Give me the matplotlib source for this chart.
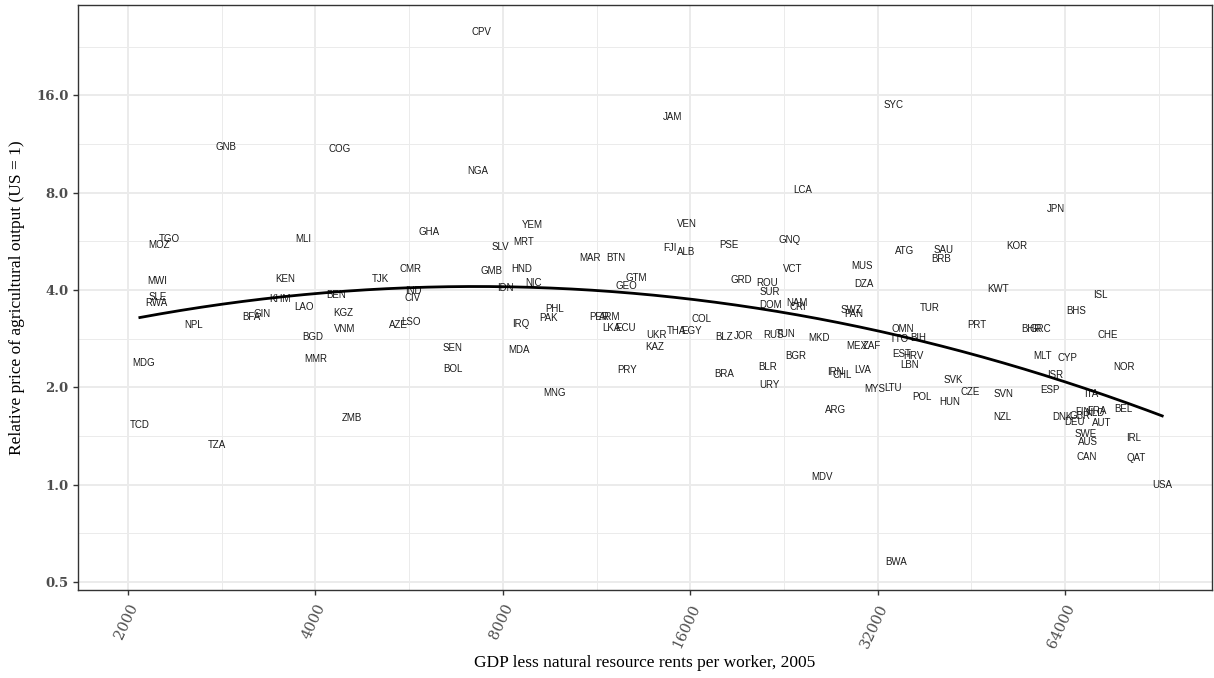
import matplotlib
matplotlib.use("Agg")
import matplotlib.pyplot as plt
from matplotlib.ticker import FixedLocator, FixedFormatter, NullFormatter
import numpy as np

# data
codes = ["TCD", "MDG", "TZA", "MWI", "SLE", "RWA", "MOZ", "TGO", "NPL", "BFA",
         "GIN", "KHM", "KEN", "LAO", "BGD", "MMR", "MLI", "GNB", "COG", "BEN",
         "KGZ", "VNM", "ZMB", "TJK", "CMR", "IND", "CIV", "AZE", "LSO", "GHA",
         "SEN", "BOL", "NGA", "CPV", "GMB", "SLV", "IDN", "YEM", "MRT", "HND",
         "NIC", "IRQ", "MDA", "PHL", "PAK", "MNG", "MAR", "BTN", "GTM", "GEO",
         "PER", "ARM", "LKA", "ECU", "PRY", "UKR", "KAZ", "THA", "EGY", "COL",
         "FJI", "ALB", "VEN", "JAM", "PSE", "BLZ", "JOR", "BRA", "GRD", "ROU",
         "SUR", "DOM", "NAM", "CRI", "RUS", "TUN", "BLR", "URY", "BGR", "GNQ",
         "VCT", "LCA", "MKD", "ARG", "MDV", "IRN", "CHL", "LVA", "MEX", "ZAF",
         "MUS", "DZA", "SWZ", "PAN", "MYS", "LTU", "SYC", "BWA", "ATG", "OMN",
         "TTO", "BIH", "EST", "HRV", "LBN", "POL", "SAU", "BRB", "TUR", "HUN",
         "SVK", "CZE", "PRT", "KOR", "KWT", "SVN", "NZL", "BHR", "GRC", "JPN",
         "MLT", "CYP", "ISR", "ESP", "ISL", "BHS", "CHE", "NOR", "ITA", "BEL",
         "FIN", "FRA", "NLD", "GBR", "DNK", "DEU", "AUT", "SWE", "AUS", "IRL",
         "CAN", "QAT", "USA"]

gdp_per_worker = [2090, 2120, 2780, 2230, 2230, 2220, 2240, 2330, 2550, 3160,
                  3280, 3510, 3580, 3830, 3960, 4010, 3830, 2870, 4380, 4320,
                  4430, 4450, 4580, 5080, 5680, 5740, 5720, 5430, 5700, 6090,
                  6650, 6650, 7300, 7380, 7660, 7940, 8070, 8910, 8650, 8590,
                  8950, 8560, 8500, 9700, 9490, 9700, 11040, 12160, 13100, 12620,
                  11420, 11890, 11940, 12570, 12660, 14100, 14040, 15230, 16050, 16700,
                  14850, 15750, 15810, 15010, 18450, 18130, 19500, 18130, 19360, 21260,
                  21500, 21570, 23750, 23840, 21730, 22800, 21330, 21410, 23650, 23060,
                  23390, 24290, 25760, 27340, 26050, 27340, 28050, 30320, 29650, 31340,
                  30210, 30430, 29010, 29330, 31700, 33860, 33990, 34250, 35300, 35140,
                  34620, 37150, 35030, 36490, 35940, 37720, 40770, 40460, 38850, 41820,
                  42280, 45050, 46200, 53600, 49950, 50880, 50720, 56420, 58370, 61920,
                  58780, 64490, 61660, 60540, 72840, 66700, 75000, 79620, 70420, 79320,
                  68420, 72060, 71530, 67650, 63300, 66380, 73330, 68940, 69700, 82320,
                  69400, 83250, 91650]

rel_price = [1.53, 2.38, 1.33, 4.27, 3.80, 3.65, 5.51, 5.75, 3.12, 3.30,
             3.37, 3.75, 4.32, 3.54, 2.86, 2.45, 5.75, 11.08, 10.92, 3.86,
             3.39, 3.03, 1.61, 4.32, 4.65, 3.97, 3.78, 3.12, 3.18, 6.05,
             2.65, 2.28, 9.34, 25.1, 4.58, 5.43, 4.06, 6.36, 5.63, 4.65,
             4.20, 3.14, 2.61, 3.49, 3.28, 1.92, 5.02, 5.02, 4.36, 4.12,
             3.30, 3.30, 3.05, 3.05, 2.26, 2.90, 2.67, 2.99, 2.99, 3.25,
             5.39, 5.24, 6.40, 13.72, 5.51, 2.86, 2.88, 2.20, 4.30, 4.20,
             3.94, 3.60, 3.65, 3.54, 2.90, 2.92, 2.31, 2.03, 2.50, 5.71,
             4.65, 8.16, 2.84, 1.70, 1.055, 2.23, 2.18, 2.26, 2.68, 2.68,
             4.75, 4.17, 3.47, 3.37, 1.98, 1.99, 14.94, 0.576, 5.28, 3.03,
             2.82, 2.84, 2.54, 2.50, 2.34, 1.87, 5.32, 4.99, 3.52, 1.80,
             2.11, 1.93, 3.12, 5.47, 4.03, 1.91, 1.62, 3.03, 3.03, 7.12,
             2.50, 2.46, 2.18, 1.96, 3.86, 3.45, 2.90, 2.31, 1.91, 1.71,
             1.68, 1.69, 1.67, 1.63, 1.62, 1.56, 1.55, 1.44, 1.36, 1.39,
             1.22, 1.21, 1.00]

x_ticks = [2000, 4000, 8000, 16000, 32000, 64000]
y_ticks = [0.5, 1.0, 2.0, 4.0, 8.0, 16.0]
y_tick_labels = ["0.5", "1.0", "2.0", "4.0", "8.0", "16.0"]

# quadratic smooth in log-log space
lx = np.log2(gdp_per_worker)
ly = np.log2(rel_price)
coef = np.polyfit(lx, ly, 2)
xs = np.linspace(lx.min(), lx.max(), 200)
fit_x = 2 ** xs
fit_y = 2 ** np.polyval(coef, xs)

fig = plt.figure(figsize=(12.14, 6.78), dpi=100)
ax = fig.add_axes([0.0643, 0.1298, 0.9341, 0.8628])
ax.set_xscale("log", base=2)
ax.set_yscale("log", base=2)
ax.set_xlim(1663, 110200)
ax.set_ylim(0.4724, 30.46)

grid_col = "#EBEBEB"
ax.xaxis.set_major_locator(FixedLocator(x_ticks))
ax.xaxis.set_minor_locator(FixedLocator([t * np.sqrt(2) for t in [1000] + x_ticks]))
ax.yaxis.set_major_locator(FixedLocator(y_ticks))
ax.yaxis.set_minor_locator(FixedLocator([t * np.sqrt(2) for t in [0.25] + y_ticks]))
ax.xaxis.set_minor_formatter(NullFormatter())
ax.yaxis.set_minor_formatter(NullFormatter())
ax.set_xticklabels([str(t) for t in x_ticks])
ax.yaxis.set_major_formatter(FixedFormatter(y_tick_labels))
ax.grid(which="major", color=grid_col, lw=1.4, zorder=0)
ax.grid(which="minor", color=grid_col, lw=0.7, zorder=0)
ax.set_axisbelow(True)

for s in ax.spines.values():
    s.set_color("#333333")
    s.set_linewidth(1.0)

ax.tick_params(which="major", direction="out", length=3.5, width=1.0,
               color="#333333", labelcolor="#4D4D4D")
ax.tick_params(axis="x", which="major", pad=5)
ax.tick_params(which="minor", length=0)
for lab in ax.get_yticklabels():
    lab.set_fontfamily("DejaVu Serif")
    lab.set_fontsize(9.5)
    lab.set_fontweight("bold")
for lab in ax.get_xticklabels():
    lab.set_fontfamily("DejaVu Serif")
    lab.set_fontsize(10.5)
    lab.set_rotation(65)
    lab.set_ha("right")
    lab.set_va("top")
    lab.set_rotation_mode("anchor")

for c, x, y in zip(codes, gdp_per_worker, rel_price):
    ax.text(x, y, c, fontsize=7, family="Liberation Sans", color="#1a1a1a",
            ha="center", va="center", zorder=3)

ax.plot(fit_x, fit_y, color="black", lw=2.0, zorder=4)

ax.set_xlabel("GDP less natural resource rents per worker, 2005",
              family="Liberation Serif", fontsize=12.5, va="center")
ax.set_ylabel("Relative price of agricultural output (US = 1)",
              family="Liberation Serif", fontsize=12.5, va="center")
ax.xaxis.set_label_coords(0.5, -0.125)
ax.yaxis.set_label_coords(-0.0538, 0.5)

fig.savefig("out.png", dpi=100)
